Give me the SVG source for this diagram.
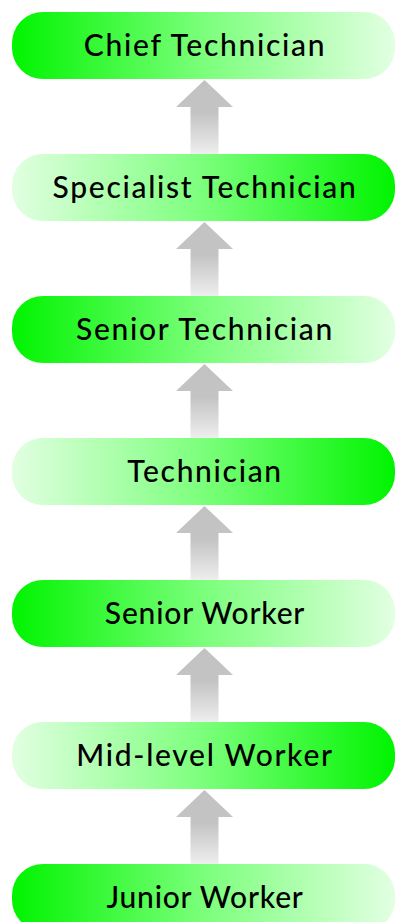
<svg xmlns="http://www.w3.org/2000/svg" width="395" height="922" viewBox="0 0 395 922">
  <defs>
    <!-- strong green on the left, fading to pale green on the right -->
    <linearGradient id="gLR" x1="0" y1="0" x2="1" y2="0">
      <stop offset="0" stop-color="#00f400"/>
      <stop offset="0.5" stop-color="#7bff7b"/>
      <stop offset="1" stop-color="#e2ffe2"/>
    </linearGradient>
    <!-- pale green on the left, strong green on the right -->
    <linearGradient id="gRL" x1="0" y1="0" x2="1" y2="0">
      <stop offset="0" stop-color="#e2ffe2"/>
      <stop offset="0.5" stop-color="#7bff7b"/>
      <stop offset="1" stop-color="#00f400"/>
    </linearGradient>
    <linearGradient id="gArrow" x1="0" y1="0" x2="0" y2="1">
      <stop offset="0" stop-color="#c2c2c2"/>
      <stop offset="0.45" stop-color="#c4c4c4"/>
      <stop offset="1" stop-color="#eeeeee"/>
    </linearGradient>
    <path id="arrow" d="M204.5 0 L233 27 L218.5 27 L218.5 74 L190.5 74 L190.5 27 L176 27 Z"/>
  </defs>
  <style>
    .node rect { stroke: none; }
    .label { font-family: "Lato", "Noto Sans", "Liberation Sans", sans-serif; font-size: 30px; font-weight: 500; letter-spacing: 1.7px; fill: #000000; text-anchor: middle; }
    .tight { letter-spacing: 0.8px; }
    .arr { fill: url(#gArrow); }
  </style>

  <g id="connectors">
    <use href="#arrow" class="arr" transform="translate(0,80)"/>
    <use href="#arrow" class="arr" transform="translate(0,222)"/>
    <use href="#arrow" class="arr" transform="translate(0,364)"/>
    <use href="#arrow" class="arr" transform="translate(0,506)"/>
    <use href="#arrow" class="arr" transform="translate(0,648)"/>
    <use href="#arrow" class="arr" transform="translate(0,790)"/>
  </g>

  <g id="node-chief" class="node">
    <rect x="12" y="12" width="383" height="67" rx="31" fill="url(#gLR)"/>
    <text class="label" x="205" y="56">Chief Technician</text>
  </g>
  <g id="node-specialist" class="node">
    <rect x="12" y="154" width="383" height="67" rx="31" fill="url(#gRL)"/>
    <text class="label" x="205" y="198">Specialist Technician</text>
  </g>
  <g id="node-senior-tech" class="node">
    <rect x="12" y="296" width="383" height="67" rx="31" fill="url(#gLR)"/>
    <text class="label" x="205" y="340">Senior Technician</text>
  </g>
  <g id="node-technician" class="node">
    <rect x="12" y="438" width="383" height="67" rx="31" fill="url(#gRL)"/>
    <text class="label" x="205" y="482">Technician</text>
  </g>
  <g id="node-senior-worker" class="node">
    <rect x="12" y="580" width="383" height="67" rx="31" fill="url(#gLR)"/>
    <text class="label tight" x="205" y="624">Senior Worker</text>
  </g>
  <g id="node-mid-worker" class="node">
    <rect x="12" y="722" width="383" height="67" rx="31" fill="url(#gRL)"/>
    <text class="label" x="205" y="766">Mid-level Worker</text>
  </g>
  <g id="node-junior-worker" class="node">
    <rect x="12" y="864" width="383" height="67" rx="31" fill="url(#gLR)"/>
    <text class="label tight" x="205" y="908">Junior Worker</text>
  </g>
</svg>
